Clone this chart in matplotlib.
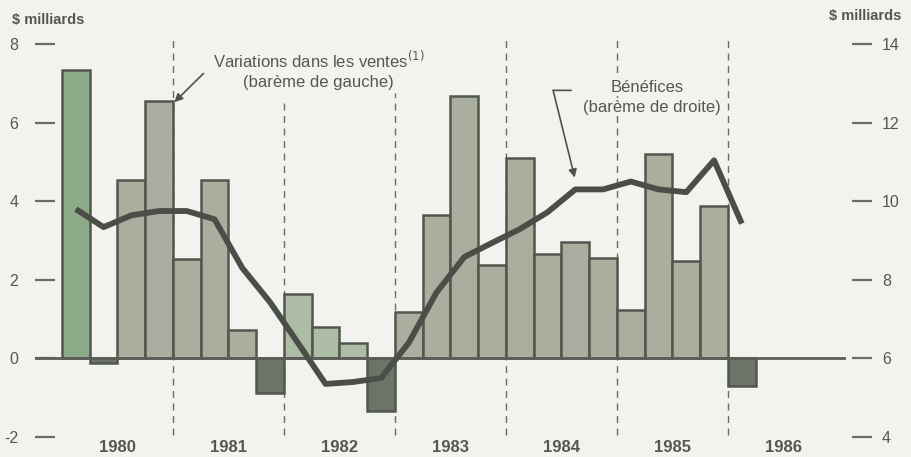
import matplotlib
matplotlib.use("Agg")
import matplotlib.pyplot as plt
import numpy as np

plt.rcParams['font.family'] = ['Liberation Sans', 'DejaVu Sans']

# ---- data ----
years = ["1980", "1981", "1982", "1983", "1984", "1985", "1986"]
# quarterly change in sales (left scale, $ billions), 1980Q1 .. 1986Q1
sales_change = [7.35, -0.12, 4.55, 6.55, 2.52, 4.53, 0.71, -0.89,
                1.63, 0.79, 0.38, -1.35, 1.17, 3.66, 6.67, 2.37,
                5.11, 2.65, 2.95, 2.55, 1.22, 5.20, 2.47, 3.89, -0.71]
# quarterly profits (right scale, $ billions)
profits = [9.80, 9.34, 9.64, 9.75, 9.75, 9.54, 8.30, 7.43,
           6.40, 5.35, 5.40, 5.50, 6.40, 7.68, 8.58, 8.94,
           9.29, 9.72, 10.30, 10.30, 10.50, 10.30, 10.23, 11.04, 9.43]
left_ticks = [8, 6, 4, 2, 0, -2]
left_ticklabels = ["8", "6", "4", "2", "0", "-2"]
right_ticks = [14, 12, 10, 8, 6, 4]

bg = "#f2f3ee"
txt = "#555852"

W, H = 912, 457
fig = plt.figure(figsize=(W / 100, H / 100), dpi=100, facecolor=bg)
ax = fig.add_axes([35 / W, (457 - 437) / H, (852 - 35) / W, (437 - 44) / H])
ax.set_facecolor(bg)

x = np.arange(len(sales_change))
ax.set_xlim(-1.47, 27.97)
ax.set_ylim(-2, 8)

# tint of scanned bars (style)
pos_fill = "#a9ae9f"
neg_fill = "#6c7367"
fills = [neg_fill if v < 0 else pos_fill for v in sales_change]
fills[0] = "#8eab89"
for i in (8, 9, 10):
    fills[i] = "#adbda5"
ax.bar(x, sales_change, width=1.0, color=fills, edgecolor="#52574d",
       linewidth=1.8, zorder=3)

# year dividers
n_years = len(years)
div_tops = [1.01, 0.86, 0.875, 1.01, 1.01, 1.01]
for k in range(1, n_years):
    ax.axvline(4 * k - 0.5, ymin=0.005, ymax=div_tops[k - 1], color="#6a6a66",
               lw=1.0, ls=(0, (5, 4)), zorder=1, clip_on=False)

ax.axhline(0, xmin=0, xmax=0.99, color="#5a5e56", lw=2.0, zorder=4)

# spines / ticks
for s in ax.spines.values():
    s.set_visible(False)
ax.set_yticks(left_ticks)
ax.set_yticklabels(left_ticklabels)
ax.tick_params(axis='y', direction='in', length=14.5, width=1.6, color="#6a6d66",
               pad=12, labelsize=11.5, labelcolor=txt)
year_centers = [4 * k + 1.5 for k in range(n_years)]
ax.set_xticks(year_centers)
ax.set_xticklabels(years, fontweight='bold', fontsize=12, color=txt)
ax.tick_params(axis='x', length=0, pad=2)

ax2 = ax.twinx()
ax2.set_ylim(4, 14)
for s in ax2.spines.values():
    s.set_visible(False)
ax2.set_yticks(right_ticks)
ax2.tick_params(axis='y', direction='out', length=14.5, width=1.6, color="#6a6d66",
                pad=7, labelsize=11.5, labelcolor=txt)
ax2.plot(x, profits, color="#4a4e47", lw=4.2, solid_joinstyle='round',
         solid_capstyle='butt', zorder=5)
ax2.set_zorder(ax.get_zorder() + 1)
ax2.patch.set_visible(False)

# axis unit labels
fig.text(12 / W, 1 - 20 / H, "$ milliards", fontsize=10.5, fontweight='bold',
         color=txt, ha='left', va='center')
fig.text(901 / W, 1 - 16 / H, "$ milliards", fontsize=10.5, fontweight='bold',
         color=txt, ha='right', va='center')

# annotations
ann_fs = 12
ax.text(8.75, 7.58, "Variations dans les ventes$^{(1)}$", ha='center', va='center',
        fontsize=ann_fs, color=txt, zorder=6,
        bbox=dict(facecolor=bg, edgecolor='none', pad=1))
ax.text(8.75, 7.02, "(barème de gauche)", ha='center', va='center',
        fontsize=ann_fs, color=txt, zorder=6,
        bbox=dict(facecolor=bg, edgecolor='none', pad=1))
ax.annotate("", xy=(3.55, 6.52), xytext=(4.6, 7.25),
            arrowprops=dict(arrowstyle='-|>', color="#4f534c", lw=1.2,
                            mutation_scale=12, shrinkA=0, shrinkB=0), zorder=6)

ax.text(20.6, 6.9, "Bénéfices", ha='center', va='center', fontsize=ann_fs,
        color=txt, zorder=6, bbox=dict(facecolor=bg, edgecolor='none', pad=1))
ax.text(20.75, 6.39, "(barème de droite)", ha='center', va='center', fontsize=ann_fs,
        color=txt, zorder=6, bbox=dict(facecolor=bg, edgecolor='none', pad=1))
ax.annotate("", xy=(17.2, 6.82), xytext=(17.85, 6.82),
            arrowprops=dict(arrowstyle='-', color="#4f534c", lw=1.2,
                            shrinkA=0, shrinkB=0), zorder=6)
ax.annotate("", xy=(17.98, 4.6), xytext=(17.2, 6.82),
            arrowprops=dict(arrowstyle='-|>', color="#4f534c", lw=1.2,
                            mutation_scale=12, shrinkA=0, shrinkB=0), zorder=6)

fig.savefig("out.png", dpi=100, facecolor=bg)
